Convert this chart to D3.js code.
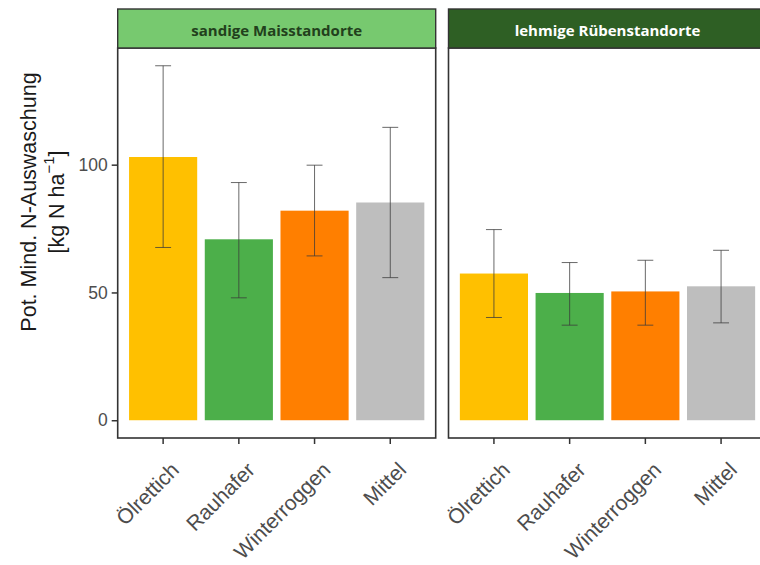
<!DOCTYPE html>
<html>
<head>
<meta charset="utf-8">
<script src="https://cdn.jsdelivr.net/npm/d3@7"></script>
<style>
  html, body { margin: 0; padding: 0; background: #fff; }
  svg { display: block; }
</style>
</head>
<body>
<svg id="chart" width="760" height="565"></svg>
<script>
// Potential minimum N leaching by catch crop, faceted by site type
const crops = ["Ölrettich", "Rauhafer", "Winterroggen", "Mittel"];
const sites = ["sandige Maisstandorte", "lehmige Rübenstandorte"];
const cropColors = ["#ffc000", "#4caf4a", "#ff7f00", "#bebebe"];
const stripFills = ["#77c96f", "#2e5f24"];
const stripText = ["#22401c", "#ffffff"];

// mean values and error-bar limits [kg N/ha]
const sandyMean  = [103.0, 70.8, 82.0, 85.2];
const sandyLow   = [67.6, 47.9, 64.3, 55.8];
const sandyHigh  = [138.7, 93.0, 99.8, 114.6];
const loamyMean  = [57.4, 49.8, 50.4, 52.4];
const loamyLow   = [40.2, 37.2, 37.2, 38.1];
const loamyHigh  = [74.6, 61.7, 62.6, 66.5];

const yTicks = [0, 50, 100];

const panels = [
  { site: sites[0], mean: sandyMean, low: sandyLow, high: sandyHigh },
  { site: sites[1], mean: loamyMean, low: loamyLow, high: loamyHigh }
];

const svg = d3.select("#chart");

const panelTop = 48, panelBottom = 438;
const stripTop = 9;
const panelWidth = 318;
const panelLefts = [117.7, 448.5];

const y = d3.scaleLinear().domain([-6.95, 145.65]).range([panelBottom, panelTop]);

panels.forEach((p, i) => {
  const x0 = panelLefts[i], x1 = x0 + panelWidth;
  const x = d3.scaleBand().domain(crops).range([x0, x1]).paddingInner(0.1).paddingOuter(0.15);
  const g = svg.append("g");

  // bars
  g.selectAll("rect.bar").data(crops).join("rect")
    .attr("class", "bar")
    .attr("x", d => x(d))
    .attr("width", x.bandwidth())
    .attr("y", (d, k) => y(p.mean[k]))
    .attr("height", (d, k) => y(0) - y(p.mean[k]))
    .attr("fill", (d, k) => cropColors[k]);

  // error bars
  const cap = x.step() * 0.21;
  const eb = g.selectAll("g.err").data(crops).join("g").attr("class", "err")
    .attr("stroke", "#3a3a3a").attr("stroke-width", 0.9).attr("stroke-opacity", 0.85);
  eb.append("line")
    .attr("x1", d => x(d) + x.bandwidth() / 2).attr("x2", d => x(d) + x.bandwidth() / 2)
    .attr("y1", (d, k) => y(p.low[k])).attr("y2", (d, k) => y(p.high[k]));
  eb.append("line")
    .attr("x1", d => x(d) + x.bandwidth() / 2 - cap / 2).attr("x2", d => x(d) + x.bandwidth() / 2 + cap / 2)
    .attr("y1", (d, k) => y(p.high[k])).attr("y2", (d, k) => y(p.high[k]));
  eb.append("line")
    .attr("x1", d => x(d) + x.bandwidth() / 2 - cap / 2).attr("x2", d => x(d) + x.bandwidth() / 2 + cap / 2)
    .attr("y1", (d, k) => y(p.low[k])).attr("y2", (d, k) => y(p.low[k]));

  // panel border
  g.append("rect")
    .attr("x", x0).attr("y", panelTop)
    .attr("width", panelWidth).attr("height", panelBottom - panelTop)
    .attr("fill", "none").attr("stroke", "#333").attr("stroke-width", 1.6);

  // strip
  g.append("rect")
    .attr("x", x0).attr("y", stripTop)
    .attr("width", panelWidth).attr("height", panelTop - stripTop)
    .attr("fill", stripFills[i]).attr("stroke", "#333").attr("stroke-width", 1.4);
  g.append("text")
    .attr("x", x0 + panelWidth / 2).attr("y", (stripTop + panelTop) / 2 + 1)
    .attr("text-anchor", "middle").attr("dominant-baseline", "central")
    .attr("font-family", "'Open Sans', sans-serif").attr("font-weight", "bold")
    .attr("font-size", 15).attr("fill", stripText[i])
    .text(p.site);

  // x axis
  const xAxis = g.append("g").attr("transform", `translate(0,${panelBottom})`)
    .call(d3.axisBottom(x).tickSize(6).tickPadding(0));
  xAxis.select(".domain").remove();
  xAxis.selectAll(".tick line").attr("stroke", "#333").attr("stroke-width", 1.5);
  xAxis.selectAll(".tick text")
    .attr("font-family", "'Liberation Sans', Arial, sans-serif")
    .attr("font-size", 21).attr("fill", "#4d4d4d")
    .attr("text-anchor", "end")
    .attr("dy", 0)
    .attr("transform", "translate(13,29) rotate(-45)");
});

// y axis on the left panel
const yAxis = svg.append("g").attr("transform", `translate(${panelLefts[0]},0)`)
  .call(d3.axisLeft(y).tickValues(yTicks).tickSize(6).tickPadding(4));
yAxis.select(".domain").remove();
yAxis.selectAll(".tick line").attr("stroke", "#333").attr("stroke-width", 1.5);
yAxis.selectAll(".tick text")
  .attr("font-family", "'Liberation Sans', Arial, sans-serif")
  .attr("font-size", 17.5).attr("fill", "#4d4d4d");

// y axis title (two lines)
const yTitle = svg.append("text")
  .attr("transform", "translate(36,202) rotate(-90)")
  .attr("text-anchor", "middle")
  .attr("font-family", "'Liberation Sans', Arial, sans-serif")
  .attr("font-size", 21.5).attr("fill", "#1a1a1a");
yTitle.append("tspan").attr("x", 0).attr("dy", 0).text("Pot. Mind. N-Auswaschung");
const line2 = svg.append("text")
  .attr("transform", "translate(64,202) rotate(-90)")
  .attr("text-anchor", "middle")
  .attr("font-family", "'Liberation Sans', Arial, sans-serif")
  .attr("font-size", 21.5).attr("fill", "#1a1a1a");
line2.append("tspan").text("[kg N ha");
line2.append("tspan").attr("font-size", 15).attr("dy", -10).text("−1");
line2.append("tspan").attr("dy", 10).text("]");
</script>
</body>
</html>
